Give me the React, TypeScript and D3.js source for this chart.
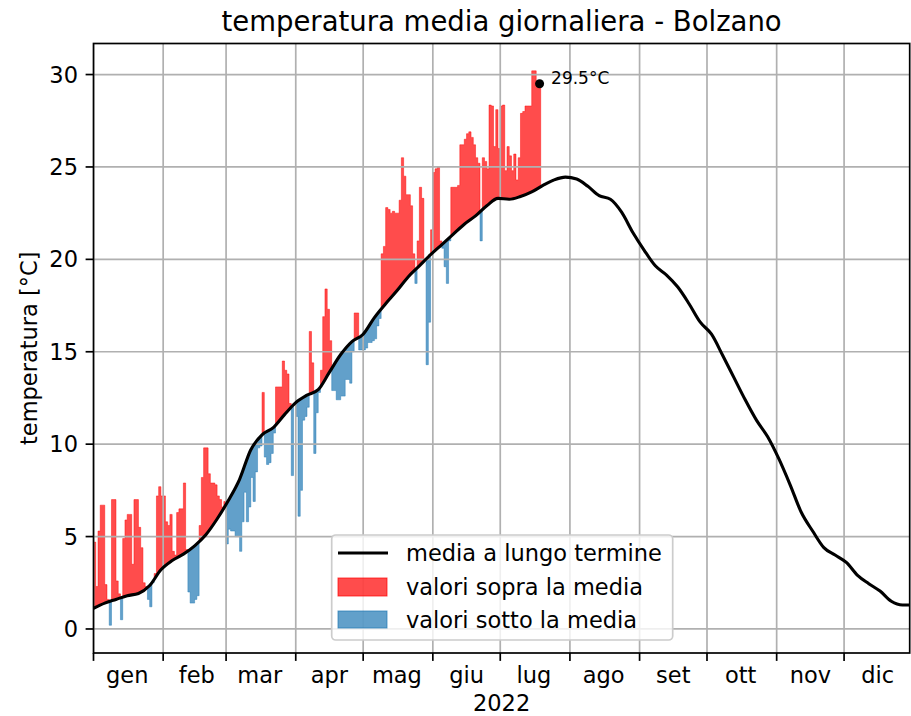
import React from 'react';
import * as d3 from 'd3';

// Daily mean temperatures 2022 (°C), one value per day
const jan = [4.7, 2.3, 5.3, 6.7, 6.7, 2.4, 1.6, 0.2, 7.0, 7.0, 2.6, 1.9, 0.5, 4.9, 5.9, 6.2, 6.2, 3.5, 7.0, 7.0, 5.5, 4.4, 2.5, 2.3, 1.6, 1.2, 2.5, 3.0, 7.2, 7.7, 7.2];
const feb = [7.2, 5.8, 5.6, 6.2, 4.2, 4.0, 6.3, 6.5, 6.5, 7.9, 4.3, 2.0, 1.4, 1.4, 1.6, 1.8, 5.6, 8.2, 9.8, 9.8, 8.4, 7.9, 7.9, 7.8, 7.2, 7.0, 6.6, 6.9];
const mar = [4.6, 5.4, 5.3, 5.3, 5.0, 5.0, 4.2, 5.8, 7.4, 5.8, 6.6, 8.2, 6.9, 8.5, 9.8, 9.9, 12.8, 9.3, 8.9, 9.0, 9.5, 10.6, 13.1, 13.1, 13.1, 14.5, 14.0, 13.8, 12.2, 8.3, 12.1];
const apr = [11.5, 6.1, 7.5, 11.3, 11.5, 12.0, 16.1, 14.4, 9.5, 11.7, 12.8, 14.0, 16.9, 18.4, 17.3, 15.6, 12.9, 12.9, 12.4, 12.4, 12.6, 12.6, 13.5, 13.5, 13.3, 15.0, 17.1, 17.1, 15.1, 15.1];
const may = [15.1, 15.2, 15.5, 15.5, 15.6, 15.7, 16.4, 16.8, 20.3, 20.7, 22.8, 22.7, 22.5, 22.6, 22.5, 22.5, 23.2, 25.5, 24.5, 23.5, 23.5, 22.9, 20.3, 18.7, 21.0, 23.9, 23.3, 20.0, 14.3, 16.6, 21.6];
const jun = [24.7, 24.9, 25.0, 21.0, 20.6, 19.6, 18.7, 21.0, 23.9, 23.9, 23.9, 24.0, 26.2, 26.2, 26.5, 26.8, 26.9, 26.6, 26.2, 25.5, 25.2, 21.0, 25.5, 25.3, 24.9, 28.35, 28.3, 26.1, 28.1, 26.0];
const jul = [28.3, 28.35, 24.8, 26.1, 25.6, 24.8, 25.7, 24.3, 25.5, 27.9, 28.0, 28.3, 28.3, 28.3, 30.2, 30.2, 29.4, 29.5];

// Long-term mean, read every 5 days (day 0 = 1 Jan)
const MEAN_STEP = 5;
const meanValues = [
  1.12, 1.4, 1.6, 1.8, 1.92, 2.35, 3.2, 3.7, 4.05, 4.5,
  5.1, 5.95, 6.95, 8.1, 9.7, 10.5, 10.9, 11.6, 12.25, 12.65,
  12.95, 13.9, 14.85, 15.55, 15.95, 16.85, 17.6, 18.3, 19.05, 19.65,
  20.25, 20.8, 21.35, 21.9, 22.35, 22.9, 23.3, 23.25, 23.4, 23.65,
  24.0, 24.3, 24.45, 24.35, 23.95, 23.45, 23.25, 22.55, 21.45, 20.5,
  19.65, 19.15, 18.5, 17.6, 16.6, 15.95, 14.8, 13.6, 12.4, 11.3,
  10.4, 9.2, 7.8, 6.3, 5.3, 4.4, 4.0, 3.6, 2.9, 2.45,
  2.05, 1.5, 1.3, 1.3,
];

const monthLabels = ['gen', 'feb', 'mar', 'apr', 'mag', 'giu', 'lug', 'ago', 'set', 'ott', 'nov', 'dic'];
const yTicks = [0, 5, 10, 15, 20, 25, 30];
const legendLabels = ['media a lungo termine', 'valori sopra la media', 'valori sotto la media'];
const titleText = 'temperatura media giornaliera - Bolzano';
const yLabelText = 'temperatura [°C]';
const xLabelText = '2022';
const lastValueLabel = '29.5°C';

const W = 911;
const H = 716;
const L = 93.5;
const R = 909.7;
const T = 43.5;
const B = 653;
const DAY = 86400000;
const START = Date.UTC(2022, 0, 1);
const FONT = '"DejaVu Sans", Verdana, sans-serif';
const FS = 22.5;
const RED = '#ff0000';
const BLUE = '#1f77b4';

export default function App() {
  const temps = [...jan, ...feb, ...mar, ...apr, ...may, ...jun, ...jul];
  const dayDate = (d: number) => new Date(START + d * DAY);
  const x = d3.scaleUtc().domain([dayDate(0), dayDate(363.2)]).range([L, R]);
  const y = d3.scaleLinear().domain([-1.3, 31.68]).range([B, T]);
  const meanDays = meanValues.map((_, i) => i * MEAN_STEP);
  const meanAt = d3.scaleLinear().domain(meanDays).range(meanValues);
  const linePath = d3
    .line<number>()
    .x((_, i) => x(dayDate(meanDays[i])))
    .y((v) => y(v))
    .curve(d3.curveMonotoneX)(meanValues) || '';
  const months = d3.utcMonths(dayDate(0), dayDate(365));
  const lastIdx = temps.length - 1;
  const lastVal = temps[lastIdx];

  // group consecutive days on the same side of the mean into one stepped polygon
  const runs: { above: boolean; start: number; end: number }[] = [];
  temps.forEach((v, i) => {
    const above = v >= meanAt(i + 0.5);
    const lastRun = runs[runs.length - 1];
    if (lastRun && lastRun.above === above && lastRun.end === i - 1) lastRun.end = i;
    else runs.push({ above, start: i, end: i });
  });
  const runPath = (r: { start: number; end: number }) => {
    const p = d3.path();
    for (let i = r.start; i <= r.end; i++) {
      const px0 = x(dayDate(i));
      const px1 = x(dayDate(i + 1));
      if (i === r.start) p.moveTo(px0, y(temps[i]));
      else p.lineTo(px0, y(temps[i]));
      p.lineTo(px1, y(temps[i]));
    }
    for (let i = r.end + 1; i >= r.start; i--) {
      p.lineTo(x(dayDate(i)), y(meanAt(i)));
    }
    p.closePath();
    return p.toString();
  };

  return (
    <svg width={W} height={H} style={{ display: 'block', position: 'absolute', left: 0, top: 0, background: '#fff' }} fontFamily={FONT}>
      <defs>
        <clipPath id="plot">
          <rect x={L} y={T} width={R - L} height={B - T} />
        </clipPath>
      </defs>
      <rect x={0} y={0} width={W} height={H} fill="#fff" />
      <g clipPath="url(#plot)">
        {runs.map((r, k) => {
          const c = r.above ? RED : BLUE;
          return (
            <path key={k} d={runPath(r)} fill={c} fillOpacity={0.7} stroke={c} strokeOpacity={0.45}
              strokeWidth={1} strokeLinejoin="miter" />
          );
        })}
        {months.map((m, i) => (
          <line key={'gx' + i} x1={x(m)} x2={x(m)} y1={T} y2={B} stroke="#b0b0b0" strokeWidth={1.7} />
        ))}
        {yTicks.map((t) => (
          <line key={'gy' + t} x1={L} x2={R} y1={y(t)} y2={y(t)} stroke="#b0b0b0" strokeWidth={1.7} />
        ))}
        <path d={linePath} fill="none" stroke="#000" strokeWidth={3.1} strokeLinejoin="round" />
        <circle cx={x(dayDate(lastIdx + 0.5))} cy={y(lastVal)} r={4.5} fill="#000" />
      </g>
      <text x={x(dayDate(lastIdx + 0.5)) + 11.5} y={y(lastVal) + 0.5} fontSize={17} fill="#000">{lastValueLabel}</text>

      {/* spines */}
      <rect x={L} y={T} width={R - L} height={B - T} fill="none" stroke="#000" strokeWidth={1.7} />

      {/* y ticks */}
      {yTicks.map((t) => (
        <g key={'yt' + t}>
          <line x1={L - 7.9} x2={L} y1={y(t)} y2={y(t)} stroke="#000" strokeWidth={1.7} />
          <text x={L - 15.5} y={y(t)} dy="0.36em" textAnchor="end" fontSize={FS} fill="#000">{t}</text>
        </g>
      ))}
      {/* x ticks at month starts */}
      {months.map((m, i) => (
        <line key={'xt' + i} x1={x(m)} x2={x(m)} y1={B} y2={B + 7.9} stroke="#000" strokeWidth={1.7} />
      ))}
      {months.map((m, i) => (
        <text key={'xl' + i} x={x(d3.utcDay.offset(m, 15))} y={683} textAnchor="middle" fontSize={FS} fill="#000">
          {monthLabels[i]}
        </text>
      ))}
      <text x={(L + R) / 2} y={711} textAnchor="middle" fontSize={FS} fill="#000">{xLabelText}</text>
      <text transform={`translate(37,${(T + B) / 2}) rotate(-90)`} textAnchor="middle" fontSize={FS} fill="#000">{yLabelText}</text>
      <text x={(L + R) / 2} y={31} textAnchor="middle" fontSize={27.5} fill="#000">{titleText}</text>

      {/* legend */}
      <g>
        <rect x={331.7} y={535} width={341} height={105} rx={4} fill="#fff" fillOpacity={0.8} stroke="#cccccc" strokeWidth={1.7} />
        <line x1={338} x2={388} y1={553} y2={553} stroke="#000" strokeWidth={3.1} />
        <rect x={338} y={578} width={49} height={18} fill={RED} fillOpacity={0.7} stroke={RED} strokeOpacity={0.7} strokeWidth={1} />
        <rect x={338} y={611} width={49} height={17} fill={BLUE} fillOpacity={0.7} stroke={BLUE} strokeOpacity={0.7} strokeWidth={1} />
        <text x={406} y={561} fontSize={FS} fill="#000">{legendLabels[0]}</text>
        <text x={406} y={595} fontSize={FS} fill="#000">{legendLabels[1]}</text>
        <text x={406} y={628} fontSize={FS} fill="#000">{legendLabels[2]}</text>
      </g>
    </svg>
  );
}
